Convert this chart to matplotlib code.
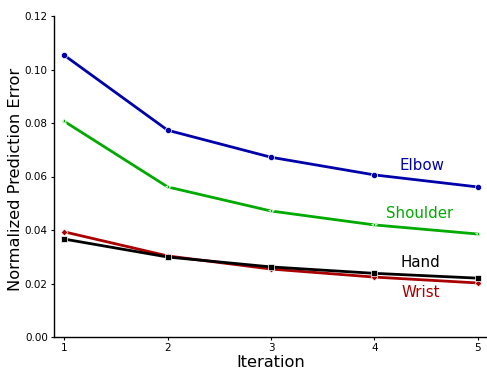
import matplotlib
matplotlib.use("Agg")
import matplotlib.pyplot as plt

iterations = [1, 2, 3, 4, 5]
elbow = [0.1053, 0.0773, 0.0672, 0.0606, 0.0561]
shoulder = [0.0806, 0.0561, 0.0471, 0.0419, 0.0385]
hand = [0.0366, 0.0299, 0.0262, 0.0238, 0.0220]
wrist = [0.0393, 0.0303, 0.0254, 0.0224, 0.0202]

series = [
    ("Elbow", elbow, "#0000aa", "o", 4.5, (4.46, 0.0640)),
    ("Shoulder", shoulder, "#00aa00", "*", 4.5, (4.44, 0.0460)),
    ("Wrist", wrist, "#aa0000", "D", 3.5, (4.45, 0.0168)),
    ("Hand", hand, "#000000", "s", 5, (4.45, 0.0280)),
]

fig = plt.figure(figsize=(4.87, 3.70), dpi=100)
ax = fig.add_axes([54/487, 1-337/370, (488-54)/487, (337-16)/370])
for name, vals, col, mk, ms, (tx, ty) in series:
    ax.plot(iterations, vals, color=col, lw=2, marker=mk, markersize=ms,
            markeredgecolor="white", markeredgewidth=0.5)
    ax.text(tx, ty, name, color=col, fontsize=10.8, ha="center", va="center")

ax.set_xlim(0.9, 5.1)
ax.set_ylim(0, 0.12)
ax.set_xticks(iterations)
ax.set_yticks([0, 0.02, 0.04, 0.06, 0.08, 0.10, 0.12])
ax.set_yticklabels(["0.00", "0.02", "0.04", "0.06", "0.08", "0.10", "0.12"])
ax.tick_params(labelsize=7.5, length=2.5, pad=2, direction="out")
for s in ("left", "bottom"):
    ax.spines[s].set_linewidth(1.0)
ax.spines["top"].set_visible(False)
ax.spines["right"].set_visible(False)
ax.set_xlabel("Iteration", fontsize=11.7, labelpad=1)
ax.set_ylabel("Normalized Prediction Error", fontsize=11.7)
ax.yaxis.set_label_coords(-0.072, 0.49)
fig.savefig("out.png", dpi=100)
